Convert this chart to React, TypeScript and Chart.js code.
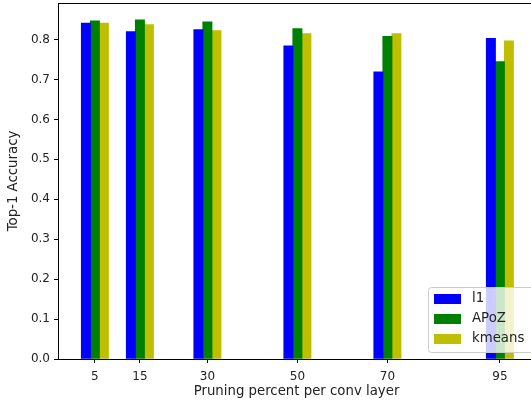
import React, { useEffect, useRef } from "react";
import { Chart, registerables } from "chart.js";

Chart.register(...registerables);

const percents = [5, 15, 30, 50, 70, 95];
const l1 = [0.841, 0.82, 0.825, 0.784, 0.719, 0.803];
const apoz = [0.847, 0.849, 0.844, 0.8275, 0.808, 0.745];
const kmeans = [0.841, 0.8375, 0.8225, 0.815, 0.815, 0.797];
const seriesNames = ["l1", "APoZ", "kmeans"];
const seriesColors = ["#0000ff", "#008000", "#bfbf00"];
const offsets = [-2, 0, 2];
const yTicks = [0, 0.1, 0.2, 0.3, 0.4, 0.5, 0.6, 0.7, 0.8];
const X_MIN = -3.2;
const X_MAX = 102.8;

const FONT = "'DejaVu Sans', sans-serif";

export default function App() {
  const ref = useRef<HTMLCanvasElement | null>(null);
  useEffect(() => {
    document.body.style.margin = "0";
    document.body.style.overflow = "hidden";
    const all = [...l1, ...apoz, ...kmeans];
    const ymax = Math.max(...all) * 1.05;
    const series = [l1, apoz, kmeans];
    const frame = {
      id: "frame",
      afterDraw(chart: any) {
        const { ctx, chartArea: a } = chart;
        ctx.save();
        ctx.strokeStyle = "#000";
        ctx.lineWidth = 1;
        ctx.strokeRect(Math.round(a.left) + 0.5, Math.round(a.top) + 0.5, a.right - a.left, a.bottom - a.top);
        // legend
        const lx = 428, ly = 287, lw = 110, lh = 65;
        ctx.fillStyle = "rgba(255,255,255,0.8)";
        ctx.strokeStyle = "#cccccc";
        ctx.beginPath();
        (ctx as any).roundRect(lx + 0.5, ly + 0.5, lw, lh, 3);
        ctx.fill();
        ctx.stroke();
        ctx.font = "13.3px " + FONT;
        ctx.textBaseline = "middle";
        ctx.textAlign = "left";
        seriesNames.forEach((n, i) => {
          const cy = ly + 12 + i * 20;
          ctx.fillStyle = seriesColors[i];
          ctx.fillRect(434, cy - 5, 27, 10);
          ctx.fillStyle = "#222";
          ctx.fillText(n, 472, cy);
        });
        ctx.restore();
      },
    };
    const chart = new Chart(ref.current!, {
      type: "bar",
      data: {
        datasets: series.map((vals, k) => ({
          label: seriesNames[k],
          data: percents.map((p, i) => ({ x: p + offsets[k], y: vals[i] })),
          backgroundColor: seriesColors[k],
          borderWidth: 0,
          barThickness: 9.3,
          grouped: false,
        })),
      },
      options: {
        animation: false,
        responsive: false,
        maintainAspectRatio: false,
        layout: { padding: { top: 3, right: 5, left: 0, bottom: 0 } },
        plugins: { legend: { display: false }, tooltip: { enabled: false } },
        scales: {
          x: {
            type: "linear",
            offset: false,
            min: X_MIN,
            max: X_MAX,
            afterBuildTicks: (s: any) => {
              s.ticks = percents.map((v) => ({ value: v }));
            },
            afterFit: (s: any) => {
              s.height = 45;
              s.paddingLeft = 0;
              s.paddingRight = 0;
            },
            grid: { drawOnChartArea: false, tickLength: 4, tickColor: "#000", offset: false },
            border: { display: false },
            ticks: {
              color: "#222",
              font: { family: FONT, size: 12 },
              padding: 7,
              maxRotation: 0,
              autoSkip: false,
            },
            title: {
              display: true,
              text: "Pruning percent per conv layer",
              color: "#222",
              font: { family: FONT, size: 13.3 },
              padding: { top: 2, bottom: 4 },
            },
          },
          y: {
            type: "linear",
            min: 0,
            max: ymax,
            afterBuildTicks: (s: any) => {
              s.ticks = yTicks.map((v) => ({ value: v }));
            },
            afterFit: (s: any) => {
              s.width = 58;
              s.paddingTop = 0;
              s.paddingBottom = 0;
            },
            grid: { drawOnChartArea: false, tickLength: 4, tickColor: "#000" },
            border: { display: false },
            ticks: {
              color: "#222",
              font: { family: FONT, size: 12 },
              padding: 4,
              callback: (v: any) => Number(v).toFixed(1),
            },
            title: {
              display: true,
              text: "Top-1 Accuracy",
              color: "#222",
              font: { family: FONT, size: 13.3 },
              padding: { top: 6, bottom: 4 },
            },
          },
        },
      },
      plugins: [frame],
    });
    return () => chart.destroy();
  }, []);
  return (
    <div style={{ width: 531, height: 404, overflow: "hidden", position: "relative" }}>
      <canvas ref={ref} width={540} height={404} style={{ display: "block", width: 540, height: 404 }} />
    </div>
  );
}
